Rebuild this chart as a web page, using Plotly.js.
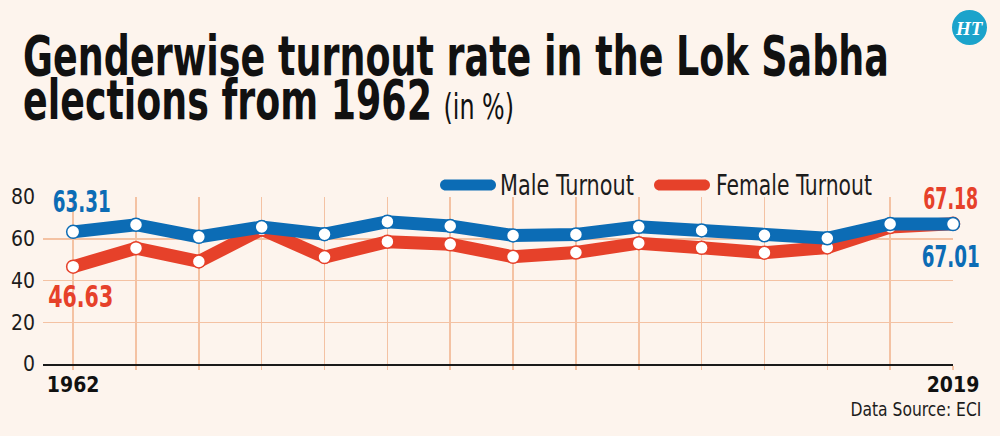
<!DOCTYPE html>
<html>
<head>
<meta charset="utf-8">
<script src="https://cdn.plot.ly/plotly-3.0.1.min.js"></script>
<style>
  html, body { margin: 0; padding: 0; background: #fdf4ed; }
  #chart { width: 1000px; height: 436px; }
</style>
</head>
<body>
<div id="chart"></div>
<script>
// ---- data ----
const years = ['1962','1967','1971','1977','1980','1984','1989','1991','1996','1998','1999','2004','2009','2014','2019'];
const maleTurnout = [63.31, 66.73, 60.90, 65.63, 62.16, 68.18, 66.13, 61.58, 62.06, 65.72, 63.97, 61.66, 60.24, 67.09, 67.01];
const femaleTurnout = [46.63, 55.48, 49.11, 64.5, 51.22, 58.60, 57.32, 51.35, 53.41, 57.88, 55.64, 53.30, 55.82, 65.63, 67.18];
const yTicks = [0, 20, 40, 60, 80];
const seriesNames = ['Male Turnout', 'Female Turnout'];
const titleLine1 = 'Genderwise turnout rate in the Lok Sabha';
const titleLine2 = 'elections from 1962';
const titleUnit = '(in %)';
const sourceText = 'Data Source: ECI';

// ---- style ----
const BLUE = '#0c6cb5';
const RED = '#e6412a';
const GRID = '#f4c2a3';
const BG = '#fdf4ed';
const INK = '#1c1c1c';
const FONT = '"DejaVu Sans Condensed", "Liberation Sans", sans-serif';

const W0 = 1000, H0 = 436;
const M = {l: 43, r: 47, t: 197, b: 72};
const PW = W0 - M.l - M.r, PH = H0 - M.t - M.b;
const px = x => (x - M.l) / PW;
const py = y => (H0 - M.b - y) / PH;

function roundedBar(x0, x1, yc, h) {
  const r = h / 2, k = 0.552 * r;
  const top = yc - r, bot = yc + r;
  const P = (x, y) => px(x).toFixed(5) + ',' + py(y).toFixed(5);
  return 'M' + P(x0 + r, top) + ' L' + P(x1 - r, top) +
    ' C' + P(x1 - r + k, top) + ' ' + P(x1, yc - k) + ' ' + P(x1, yc) +
    ' C' + P(x1, yc + k) + ' ' + P(x1 - r + k, bot) + ' ' + P(x1 - r, bot) +
    ' L' + P(x0 + r, bot) +
    ' C' + P(x0 + r - k, bot) + ' ' + P(x0, yc + k) + ' ' + P(x0, yc) +
    ' C' + P(x0, yc - k) + ' ' + P(x0 + r - k, top) + ' ' + P(x0 + r, top) + ' Z';
}

const last = years.length - 1;

const traces = [
  {
    x: years, y: femaleTurnout, name: seriesNames[1], type: 'scatter', mode: 'lines+markers',
    line: {color: RED, width: 13},
    marker: {color: '#ffffff', size: 13, line: {color: RED, width: 1.5}},
    cliponaxis: false, hoverinfo: 'skip'
  },
  {
    x: years, y: maleTurnout, name: seriesNames[0], type: 'scatter', mode: 'lines+markers',
    line: {color: BLUE, width: 13},
    marker: {color: '#ffffff', size: 13, line: {color: BLUE, width: 1.5}},
    cliponaxis: false, hoverinfo: 'skip'
  }
];

// target widths (px) used to condense text horizontally, matching the narrow newspaper face
const fitWidths = [];
const annotations = [];
function addAnn(a, w) { annotations.push(a); fitWidths.push(w || null); }

// title
addAnn({xref: 'paper', yref: 'paper', x: px(21), y: py(56), xanchor: 'left', yanchor: 'middle', showarrow: false,
  text: '<b>' + titleLine1 + '</b>', font: {family: FONT, size: 55, color: '#111'}}, 866);
addAnn({xref: 'paper', yref: 'paper', x: px(21), y: py(100), xanchor: 'left', yanchor: 'middle', showarrow: false,
  text: '<b>' + titleLine2 + '</b> <span style="font-size:36px">' + titleUnit + '</span>',
  font: {family: FONT, size: 55, color: '#111'}}, 491);
// HT logo text
addAnn({xref: 'paper', yref: 'paper', x: px(970), y: py(28), xanchor: 'center', yanchor: 'middle', showarrow: false,
  text: '<b><i>HT</i></b>', font: {family: '"Liberation Serif", "DejaVu Serif", serif', size: 19, color: '#ffffff'}});
// legend texts
addAnn({xref: 'paper', yref: 'paper', x: px(498), y: py(185), xanchor: 'left', yanchor: 'middle', showarrow: false,
  text: seriesNames[0], font: {family: FONT, size: 28, color: INK}}, 134);
addAnn({xref: 'paper', yref: 'paper', x: px(714), y: py(185), xanchor: 'left', yanchor: 'middle', showarrow: false,
  text: seriesNames[1], font: {family: FONT, size: 28, color: INK}}, 156);
// value labels
addAnn({x: 0, y: maleTurnout[0], xshift: 8, yshift: 30, showarrow: false,
  text: '<b>' + maleTurnout[0].toFixed(2) + '</b>', font: {family: FONT, size: 30, color: BLUE}}, 58);
addAnn({x: 0, y: femaleTurnout[0], xshift: 7, yshift: -30, showarrow: false,
  text: '<b>' + femaleTurnout[0].toFixed(2) + '</b>', font: {family: FONT, size: 30, color: RED}}, 65);
addAnn({x: last, y: femaleTurnout[last], xshift: -3, yshift: 25, showarrow: false,
  text: '<b>' + femaleTurnout[last].toFixed(2) + '</b>', font: {family: FONT, size: 30, color: RED}}, 55);
addAnn({x: last, y: maleTurnout[last], xshift: -3, yshift: -32, showarrow: false,
  text: '<b>' + maleTurnout[last].toFixed(2) + '</b>', font: {family: FONT, size: 30, color: BLUE}}, 58);
// source
addAnn({xref: 'paper', yref: 'paper', x: px(983), y: py(409), xanchor: 'right', yanchor: 'middle', showarrow: false,
  text: sourceText, font: {family: FONT, size: 20, color: INK}}, 131);

const shapes = [
  {type: 'circle', xref: 'paper', yref: 'paper', x0: px(952), x1: px(987), y0: py(45), y1: py(10),
   fillcolor: '#1ba3cb', line: {width: 0}, layer: 'above'},
  {type: 'path', xref: 'paper', yref: 'paper', path: roundedBar(440, 496, 185, 11), fillcolor: BLUE, line: {width: 0}},
  {type: 'path', xref: 'paper', yref: 'paper', path: roundedBar(654, 710, 185, 11), fillcolor: RED, line: {width: 0}}
];

const layout = {
  width: W0, height: H0,
  margin: M,
  paper_bgcolor: BG, plot_bgcolor: BG,
  showlegend: false,
  font: {family: FONT, color: INK},
  xaxis: {
    type: 'category', range: [-0.48, last],
    tickmode: 'array', tickvals: years,
    ticktext: years.map((y, i) => (i === 0 || i === last) ? '<b>' + y + '</b>' : ''),
    tickfont: {family: FONT, size: 21, color: '#111'},
    showgrid: true, gridcolor: GRID, gridwidth: 1.5,
    ticks: 'outside', ticklen: 4, tickwidth: 1.5, tickcolor: GRID,
    ticklabelstandoff: -3,
    showline: true, linecolor: '#1a1a1a', linewidth: 1.5,
    zeroline: false, fixedrange: true
  },
  yaxis: {
    range: [0, 80], tickmode: 'array', tickvals: yTicks,
    tickfont: {family: FONT, size: 21, color: INK},
    showgrid: true, gridcolor: GRID, gridwidth: 1.5,
    zeroline: false, showline: false, ticks: '', ticklabelstandoff: 7, fixedrange: true
  },
  annotations: annotations,
  shapes: shapes
};

Plotly.newPlot('chart', traces, layout, {displayModeBar: false, staticPlot: true}).then(function (gd) {
  gd.querySelectorAll('g.annotation').forEach(function (g) {
    const idx = +g.getAttribute('data-index');
    const w = fitWidths[idx];
    if (!w) return;
    const t = g.querySelector('text.annotation-text');
    if (!t) return;
    const bw = t.getBBox().width;
    if (!bw) return;
    const f = w / bw;
    const anc = annotations[idx].xanchor || 'center';
    t.style.transformBox = 'fill-box';
    t.style.transformOrigin = (anc === 'left' ? 'left' : anc === 'right' ? 'right' : 'center') + ' center';
    t.style.transform = 'scaleX(' + f.toFixed(4) + ')';
  });
});
</script>
</body>
</html>
